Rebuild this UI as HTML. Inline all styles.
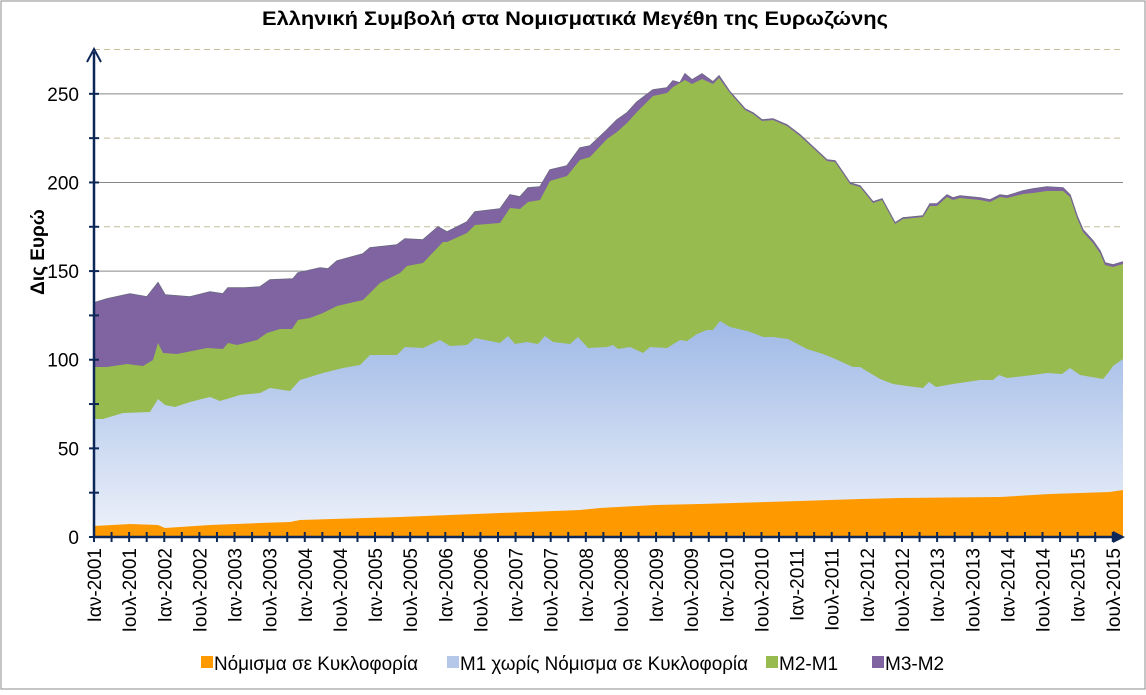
<!DOCTYPE html><html><head><meta charset="utf-8"><style>
body{margin:0;background:#fff;font-family:"Liberation Sans",Arial,sans-serif}
svg text{font-family:"Liberation Sans",Arial,sans-serif}
</style></head><body>
<svg id="s" width="1146" height="690" xmlns="http://www.w3.org/2000/svg">
<defs><linearGradient id="g" x1="0" y1="0" x2="0" y2="1"><stop offset="0" stop-color="#9fb9e6"/><stop offset="1" stop-color="#eef2fa"/></linearGradient></defs>
<rect x="1" y="1" width="1144" height="688" fill="#fff" stroke="#8c8c8c"/>
<text x="262" y="25" font-size="19" font-weight="bold" textLength="626" lengthAdjust="spacingAndGlyphs">Ελληνική Συμβολή στα Νομισματικά Μεγέθη της Ευρωζώνης</text>
<text transform="translate(44,252) rotate(-90)" text-anchor="middle" font-size="19" font-weight="bold">Δις Ευρώ</text>
<g id="c"></g>
<g font-size="19">
<rect x="201" y="656" width="12" height="12" fill="#ff9900"/><text x="214" y="670" textLength="204" lengthAdjust="spacingAndGlyphs">Νόμισμα σε Κυκλοφορία</text>
<rect x="447" y="656" width="12" height="12" fill="#b5c8ea"/><text x="460" y="670" textLength="288" lengthAdjust="spacingAndGlyphs">Μ1 χωρίς Νόμισμα σε Κυκλοφορία</text>
<rect x="766" y="656" width="12" height="12" fill="#98bb4f"/><text x="779" y="670">Μ2-Μ1</text>
<rect x="872" y="656" width="12" height="12" fill="#8064a2"/><text x="885" y="670">Μ3-Μ2</text>
</g>
</svg>
<script>
const Y0=537,PU=1.7727,X0=94,PM=5.855;
const y=v=>Y0-v*PU,x=m=>X0+m*PM;
const P3=[[94,303],[107,299],[130,294],[147,297],[158,283],[165,295],[190,297],[210,292],[223,294],[228,288],[245,288],[260,287],[270,280],[293,279],[298,273],[320,268],[328,269],[337,261],[363,254],[370,248],[397,245],[405,239],[423,240],[438,227],[447,232],[467,222],[475,212],[500,209],[510,195],[520,197],[528,188],[540,187],[550,170],[567,166],[580,148],[590,146],[607,130],[617,120],[627,113],[637,102],[653,90],[667,88],[673,81],[680,83],[685,74],[692,80],[702,74],[713,82],[719,76],[730,92],[745,109],[753,113],[762,120],[773,119],[787,125],[800,135],[813,147],[827,160],[835,161],[850,183],[860,186],[873,202],[882,199],[895,223],[903,218],[913,217],[923,216],[930,204],[937,204],[947,195],[953,198],[960,196],[980,198],[990,200],[1000,195],[1007,196],[1023,191],[1033,189],[1047,187],[1063,188],[1070,195],[1077,216],[1083,230],[1093,241],[1100,251],[1105,263],[1113,265],[1123,262]];
const P2=[[94,367],[107,367],[127,364],[143,366],[153,360],[158,343],[163,353],[177,354],[207,348],[223,349],[228,343],[237,345],[257,340],[267,333],[280,329],[292,329],[298,320],[310,318],[323,313],[337,306],[363,300],[380,283],[400,273],[407,266],[423,263],[443,242],[447,242],[467,233],[475,225],[500,223],[510,208],[520,209],[528,202],[540,200],[550,181],[567,176],[580,160],[590,157],[607,139],[617,132],[627,123],[637,112],[653,96],[667,93],[673,87],[685,80],[692,84],[702,79],[713,84],[719,78],[730,93],[745,110],[753,114],[762,121],[773,120],[787,126],[800,136],[813,148],[827,161],[835,162],[850,184],[860,187],[873,203],[882,200],[895,224],[903,219],[913,218],[923,217],[930,206],[937,206],[947,197],[953,200],[960,198],[980,200],[990,202],[1000,197],[1007,198],[1023,194],[1033,193],[1047,191],[1063,191],[1070,197],[1077,218],[1083,232],[1093,243],[1100,253],[1105,265],[1113,267],[1123,264]];
const P1=[[94,419],[103,419],[123,413],[150,412],[158,399],[165,405],[175,407],[190,402],[210,397],[220,401],[240,395],[260,393],[270,388],[290,391],[300,380],[323,373],[343,368],[360,365],[370,355],[397,355],[405,347],[423,348],[440,340],[450,346],[467,345],[475,338],[500,343],[508,336],[515,344],[527,342],[538,344],[545,336],[553,342],[570,344],[578,337],[588,348],[607,347],[613,345],[618,349],[630,347],[643,353],[650,347],[667,348],[680,340],[687,341],[697,334],[707,330],[713,330],[720,321],[730,327],[747,331],[753,333],[763,337],[773,337],[788,339],[807,349],[823,354],[833,358],[853,367],[860,367],[880,379],[893,384],[907,386],[923,388],[929,382],[936,387],[953,384],[980,380],[993,380],[999,375],[1007,378],[1033,375],[1047,373],[1062,374],[1070,368],[1080,375],[1103,379],[1108,373],[1113,366],[1123,359]];
const P0=[[94,526],[130,524],[158,525],[165,528],[210,525],[260,523],[290,522],[300,520],[400,517],[450,515],[500,513],[580,510],[600,508],[655,505],[700,504],[800,501],[860,499],[900,498],[1000,497],[1050,494],[1110,492],[1123,490]];
function poly(p,f,st){return `<polygon points="${p.map(a=>a.join(',')).join(' ')} 1123,537 94,537" fill="${f}"${st||''}/>`;}
let h='';
for(let v=25;v<=275;v+=50)h+=`<line x1="94" x2="1123" y1="${y(v)}" y2="${y(v)}" stroke="#c4bd97" stroke-dasharray="6,4"/>`;
for(let v=50;v<=250;v+=50)h+=`<line x1="94" x2="1123" y1="${y(v)}" y2="${y(v)}" stroke="#868686"/>`;
h+=`<polyline points="${P3.map(a=>a.join(',')).join(' ')}" fill="none" stroke="#6a6a80" stroke-width="1.5"/>`;
h+=poly(P3,'#8064a2')+poly(P2,'#98bb4f')+poly(P1,'url(#g)')+poly(P0,'#ff9900');
h+=`<line x1="94" y1="537" x2="94" y2="52" stroke="#0d2758" stroke-width="2.5"/><path d="M87,62 L94,49 L101,62" fill="none" stroke="#0d2758" stroke-width="2"/>`;
h+=`<line x1="94" y1="537" x2="1118" y2="537" stroke="#0d2758" stroke-width="2.5"/><path d="M1113,531 L1125,537 L1113,543Z" fill="#0d2758"/>`;
for(let v=0;v<=250;v+=25)h+=`<line x1="89" x2="99" y1="${y(v)}" y2="${y(v)}" stroke="#0d2758" stroke-width="2"/>`;
for(let v=0;v<=250;v+=50)h+=`<text x="79" y="${y(v)+7}" text-anchor="end" font-size="19">${v}</text>`;
for(let m=0;m<=174;m+=3)h+=`<line x1="${x(m)}" x2="${x(m)}" y1="532" y2="542" stroke="#0d2758" stroke-width="2"/>`;
for(let m=0;m<=174;m+=6){const yr=2001+Math.floor(m/12);const lab=(m%12==0?'Ιαν-':'Ιουλ-')+yr;h+=`<text transform="translate(${x(m)+7},548) rotate(-90)" text-anchor="end" font-size="19">${lab}</text>`;}
document.getElementById('c').innerHTML=h;
</script>
</body></html>
